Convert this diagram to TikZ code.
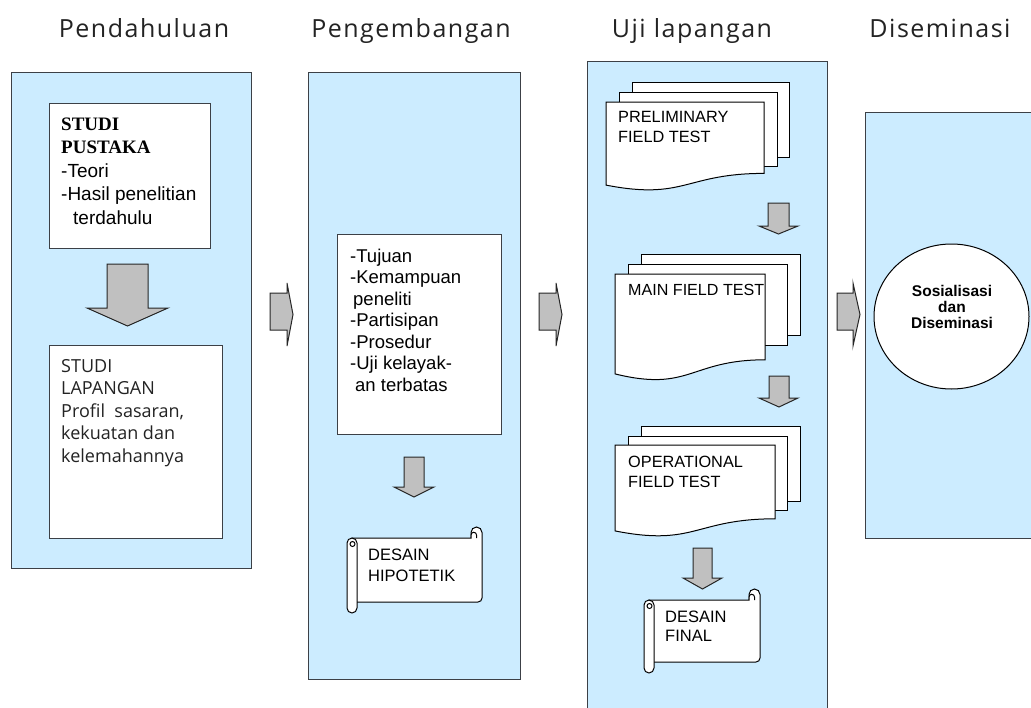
\documentclass[tikz,border=0pt]{standalone}
\usepackage{fontspec}
\setmainfont{Liberation Sans}
\newfontfamily\serifb{Liberation Serif}
\newfontfamily\thinf{Open Sans}[LetterSpace=6]
\newfontfamily\plainthin{Open Sans}
\usetikzlibrary{shapes.geometric}
\definecolor{panelblue}{RGB}{204,236,255}
\definecolor{edgegray}{RGB}{60,64,70}
\definecolor{arrowgray}{RGB}{192,192,192}
\definecolor{inkgray}{RGB}{35,35,35}
\newcommand\ltext[1]{\vtop{\halign{##\hfil\cr#1\crcr}}}
\newcommand\ctext[1]{\vtop{\halign{\hfil##\hfil\cr#1\crcr}}}
\newcommand\darr[7]{\draw[blockarrow] (#1,#3) -- (#2,#3) -- (#2,#6) -- (#5,#6) -- ({(#1+#2)/2},#7) -- (#4,#6) -- (#1,#6) -- cycle;}
\newcommand\rarr[3]{\draw[blockarrow] (#1,293) -- (#2,293) -- (#2,283) -- (#3,314.5) -- (#2,346) -- (#2,330) -- (#1,330) -- cycle;}
\newcommand\scrollshape[4]{%
  \draw[sheet] ({#1+5},{#2+11}) -- ({#3-11},{#2+11}) -- ({#3-11},{#2+5.5})
     arc[start angle=180,end angle=0,radius=5.5pt] -- ({#3},{#4-15})
     arc[start angle=0,end angle=-90,radius=4pt] -- ({#1+5},{#4-11}) -- cycle;
  \draw[sheet] ({#3-5.5},{#2+11}) -- ({#3-5.5},{#2+8}) arc[start angle=0,end angle=180,radius=2.75pt] -- ({#3-11},{#2+11});
  \draw[sheet] (#1,{#2+16}) arc[start angle=180,end angle=0,radius=5pt] -- ({#1+10},{#4-5})
     arc[start angle=0,end angle=-180,radius=5pt] -- cycle;
  \draw[line width=1pt] ({#1+5.5},{#2+17}) circle[radius=2.5pt];
}
\begin{document}
\begin{tikzpicture}[x=1pt,y=-1pt,
  panel/.style={draw=edgegray, fill=panelblue, line width=1.3pt, inner sep=0, anchor=north west},
  wbox/.style={draw=edgegray, fill=white, line width=1.2pt, inner sep=0, anchor=north west},
  sheet/.style={draw=black, fill=white, line width=1pt},
  blockarrow/.style={draw=black!85, fill=arrowgray, line width=1pt, line join=miter},
  title/.style={font=\thinf\fontsize{25}{29}\selectfont, text=inkgray, anchor=base, inner sep=0},
  txt/.style={anchor=base west, inner sep=0, text=black},
]
\useasboundingbox (0,0) rectangle (1031,707);
\fill[white] (0,0) rectangle (1031,707);

% titles
\node[title] (t1) at (144,37) {Pendahuluan};
\node[title] (t2) at (411,37) {Pengembangan};
\node[title] (t3) at (692,37) {Uji lapangan};
\node[title] (t4) at (940,37) {Diseminasi};

% panels
\node[panel, minimum width=240pt, minimum height=496pt] (p1) at (11,72) {};
\node[panel, minimum width=212pt, minimum height=607pt] (p2) at (308,72) {};
\node[panel, minimum width=240pt, minimum height=670pt] (p3) at (587,61) {};
\node[panel, minimum width=200pt, minimum height=426pt] (p4) at (865,112) {};

% panel 1
\node[wbox, minimum width=161pt, minimum height=145pt] (b1) at (49,103) {};
\node[txt, font=\fontsize{19}{23.5}\selectfont] (b1t) at (61,130)
  {\ltext{{\serifb\bfseries STUDI}\cr{\serifb\bfseries PUSTAKA}\cr -Teori\cr -Hasil penelitian\cr\hspace{12pt}terdahulu}};
\darr{107}{148}{264}{87}{168}{308}{326}
\node[wbox, minimum width=173pt, minimum height=193pt] (b2) at (49,345) {};
\node[txt, font=\plainthin\fontsize{18}{22.5}\selectfont, text=inkgray] (b2t) at (61,372)
  {\ltext{STUDI\cr LAPANGAN\cr Profil\ \ sasaran,\cr kekuatan dan\cr kelemahannya}};

% panel 2
\node[wbox, minimum width=164pt, minimum height=200pt] (b3) at (337,234) {};
\node[txt, font=\fontsize{18.5}{21.5}\selectfont] (b3t) at (350,262)
  {\ltext{-Tujuan\cr -Kemampuan\cr\hspace{3pt}peneliti\cr -Partisipan\cr -Prosedur\cr -Uji kelayak-\cr\hspace{5pt}an terbatas}};
\darr{404}{424}{457}{394}{434}{487}{497}
\scrollshape{347}{527}{482}{613}
\node[txt, font=\fontsize{16.5}{21}\selectfont] (s1t) at (368,560) {\ltext{DESAIN\cr HIPOTETIK}};

% panel 3
\draw[sheet] (632,82) rectangle (789,157);
\draw[sheet] (619,92) rectangle (777,166);
\draw[sheet] (606,102) -- (764,102) -- (764,173.4) .. controls (685,173.4) and (685,200.5) .. (606,185.1) -- cycle;
\node[txt, font=\fontsize{16.3}{20}\selectfont] (d1t) at (618,122) {\ltext{PRELIMINARY\cr FIELD TEST}};
\darr{768}{789}{203}{759}{798}{226}{234}

\draw[sheet] (641,254) rectangle (800,335);
\draw[sheet] (628,264) rectangle (787,345);
\draw[sheet] (615,274) -- (765,274) -- (765,359.8) .. controls (690,359.8) and (690,392.4) .. (615,373.9) -- cycle;
\node[txt, font=\fontsize{16.1}{20}\selectfont] (d2t) at (628,295) {MAIN FIELD TEST};
\darr{769}{789}{376}{759}{798}{398}{407}

\draw[sheet] (641,426) rectangle (800,501);
\draw[sheet] (628,436) rectangle (787,510);
\draw[sheet] (615,445) -- (775,445) -- (775,518.8) .. controls (695,518.8) and (695,546.8) .. (615,530.9) -- cycle;
\node[txt, font=\fontsize{16.3}{20}\selectfont] (d3t) at (628,467) {\ltext{OPERATIONAL\cr FIELD TEST}};
\darr{693}{712}{548}{683}{722}{578}{589}
\scrollshape{644}{589}{760}{673}
\node[txt, font=\fontsize{16.5}{19}\selectfont] (s2t) at (665,622) {\ltext{DESAIN\cr FINAL}};

% panel 4
\node[draw=black, fill=white, ellipse, line width=1pt, minimum width=155pt, minimum height=145pt, inner sep=0] (circ) at (951.5,316.5) {};
\node[anchor=base, inner sep=0, font=\bfseries\fontsize{15.5}{16}\selectfont] (ct) at (952,296) {\ctext{Sosialisasi\cr dan\cr Diseminasi}};

% arrows between panels
\rarr{270}{287}{293}
\rarr{539}{556}{562}
\rarr{837}{853}{860}
\end{tikzpicture}
\end{document}
